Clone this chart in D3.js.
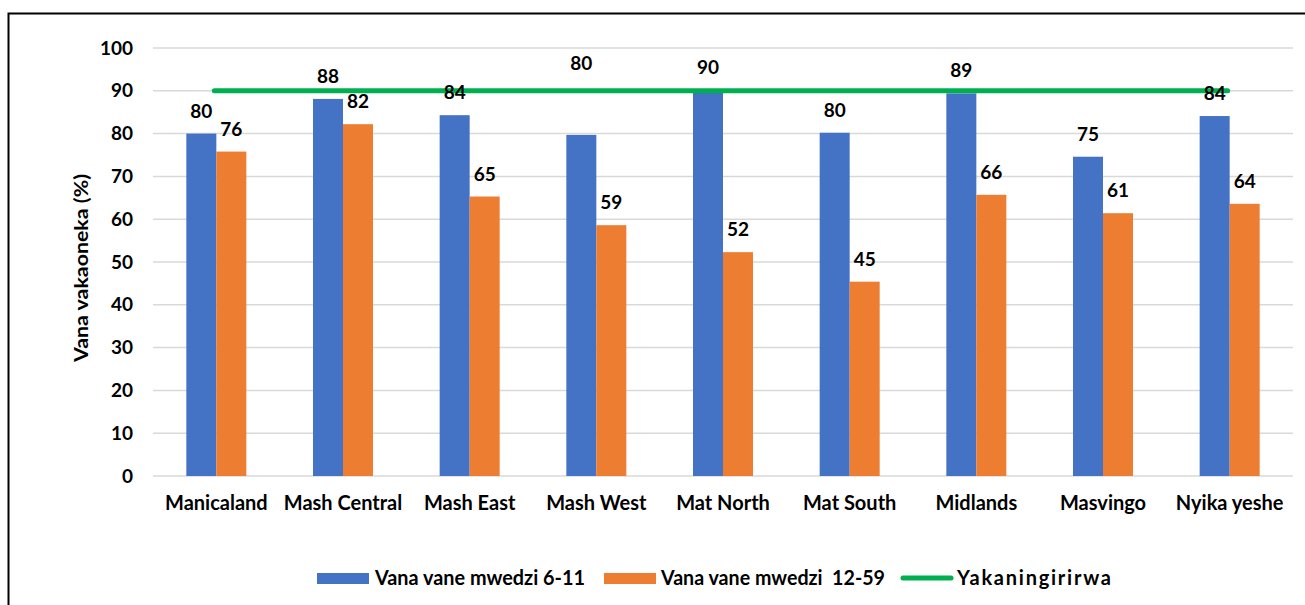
<!DOCTYPE html>
<html><head><meta charset="utf-8">
<script src="https://cdn.jsdelivr.net/npm/d3@7"></script>
<style>
body{margin:0;background:#fff;}
svg{display:block;font-family:Lato,"Open Sans",sans-serif;font-weight:bold;}
</style></head>
<body><svg id="c" width="1305" height="605"></svg>
<script>
const categories = ["Manicaland","Mash Central","Mash East","Mash West","Mat North","Mat South","Midlands","Masvingo","Nyika yeshe"];
const young = [80.0, 88.1, 84.3, 79.7, 90.3, 80.2, 89.4, 74.6, 84.1];
const older = [75.8, 82.2, 65.3, 58.6, 52.3, 45.4, 65.7, 61.4, 63.6];
const target = [90, 90, 90, 90, 90, 90, 90, 90, 90];
const seriesNames = ["Vana vane mwedzi 6-11", "Vana vane mwedzi  12-59", "Yakaningirirwa"];
const yTicks = [0,10,20,30,40,50,60,70,80,90,100];
const yTitle = "Vana vakaoneka (%)";
const labelShiftYoung = [0,0,0,-49,0,0,0,0,0];

const FONT = "Lato,'Open Sans',sans-serif";
const svg = d3.select("#c");
svg.append("rect").attr("x",8.5).attr("y",13.5).attr("width",1400).attr("height",700)
  .attr("fill","none").attr("stroke","#000").attr("stroke-width",2);

const x = d3.scaleBand().domain(categories).range([153,1293]);
const y = d3.scaleLinear().domain([0,100]).range([476,48]);
const barW = 30;

const grid = svg.append("g");
grid.selectAll("line").data(yTicks).join("line")
  .attr("x1",153).attr("x2",1293).attr("y1",d=>y(d)).attr("y2",d=>y(d))
  .attr("stroke","#d9d9d9").attr("stroke-width",1.5);

const yAxis = svg.append("g").attr("transform","translate(153,0)")
  .call(d3.axisLeft(y).tickValues(yTicks).tickSize(0).tickPadding(20));
yAxis.select(".domain").remove();
yAxis.selectAll("text").attr("font-size",19).attr("font-weight","bold").attr("fill","#000")
  .attr("font-family",FONT);

const xAxis = svg.append("g").attr("transform","translate(0,476)")
  .call(d3.axisBottom(x).tickSize(0).tickPadding(20));
xAxis.select(".domain").remove();
xAxis.selectAll("text").attr("font-size",20).attr("font-weight","bold").attr("fill","#000")
  .attr("font-family",FONT);

svg.append("text").attr("transform","translate(88,268) rotate(-90)")
  .attr("text-anchor","middle").attr("font-size",19).attr("fill","#000")
  .attr("textLength",188).attr("lengthAdjust","spacingAndGlyphs").text(yTitle);

const cx = c => x(c) + x.bandwidth()/2;

svg.append("g").selectAll("rect").data(categories).join("rect")
  .attr("x",(c)=>cx(c)-barW).attr("width",barW)
  .attr("y",(c,i)=>y(young[i])).attr("height",(c,i)=>y(0)-y(young[i]))
  .attr("fill","#4472c4");
svg.append("g").selectAll("rect").data(categories).join("rect")
  .attr("x",(c)=>cx(c)).attr("width",barW)
  .attr("y",(c,i)=>y(older[i])).attr("height",(c,i)=>y(0)-y(older[i]))
  .attr("fill","#ed7d31");

const line = d3.line().x((d,i)=>cx(categories[i])-2).y(d=>y(d));
svg.append("path").datum(target).attr("d",line).attr("fill","none")
  .attr("stroke","#00b050").attr("stroke-width",5).attr("stroke-linecap","round");

svg.append("g").selectAll("text").data(categories).join("text")
  .attr("x",c=>cx(c)-barW/2).attr("y",(c,i)=>y(young[i])-16+labelShiftYoung[i])
  .attr("text-anchor","middle").attr("font-size",19).attr("fill","#000")
  .text((c,i)=>Math.round(young[i]));
svg.append("g").selectAll("text").data(categories).join("text")
  .attr("x",c=>cx(c)+barW/2).attr("y",(c,i)=>y(older[i])-16)
  .attr("text-anchor","middle").attr("font-size",19).attr("fill","#000")
  .text((c,i)=>Math.round(older[i]));

const lg = svg.append("g").attr("font-size",20).attr("fill","#000");
lg.append("rect").attr("x",317).attr("y",573).attr("width",52).attr("height",11).attr("fill","#4472c4");
lg.append("text").attr("x",375).attr("y",585).attr("textLength",210).attr("lengthAdjust","spacingAndGlyphs").text(seriesNames[0]);
lg.append("rect").attr("x",604).attr("y",573).attr("width",52).attr("height",11).attr("fill","#ed7d31");
lg.append("text").attr("x",661).attr("y",585).attr("textLength",224).attr("lengthAdjust","spacingAndGlyphs").style("white-space","pre").text(seriesNames[1]);
lg.append("line").attr("x1",903).attr("x2",951).attr("y1",578).attr("y2",578)
  .attr("stroke","#00b050").attr("stroke-width",5).attr("stroke-linecap","round");
lg.append("text").attr("x",957).attr("y",585).attr("textLength",154).attr("lengthAdjust","spacing").text(seriesNames[2]);
</script></body></html>
